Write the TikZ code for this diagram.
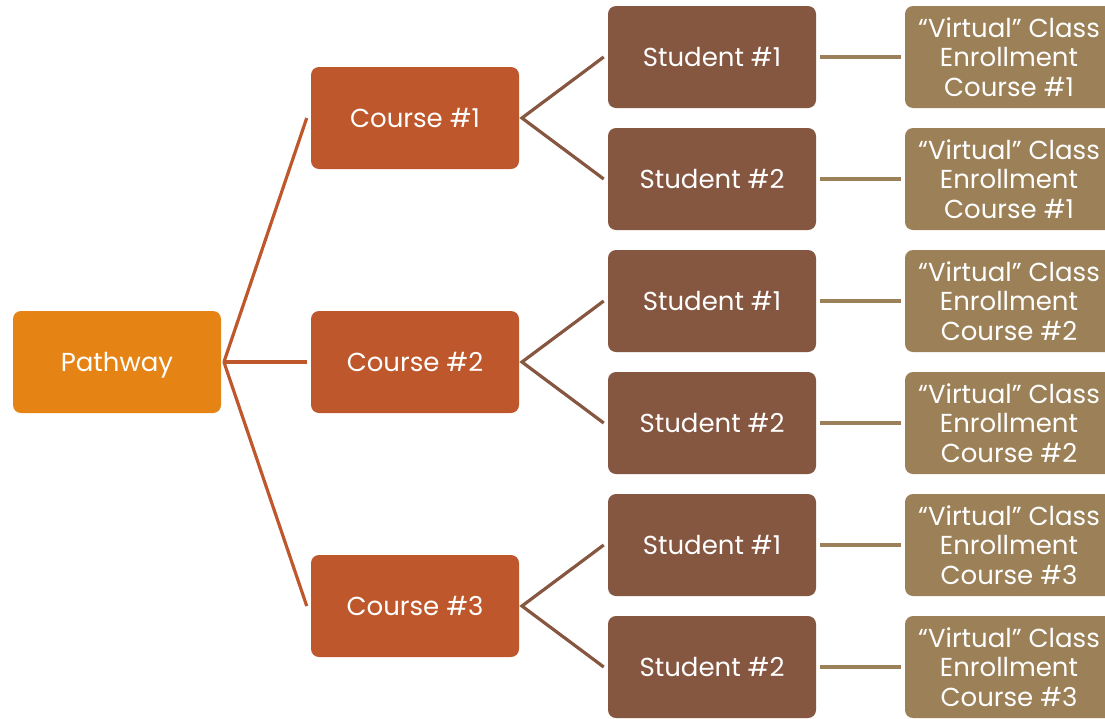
\documentclass[tikz,border=0pt]{standalone}
\usepackage{fontspec}
\setmainfont{Poppins}
\definecolor{pathc}{HTML}{E58314}
\definecolor{coursec}{HTML}{BE582C}
\definecolor{studc}{HTML}{855640}
\definecolor{virtc}{HTML}{9C8057}
\begin{document}
\begin{tikzpicture}[x=0.75pt,y=-0.75pt,
  box/.style={rounded corners=6pt,minimum width=156pt,minimum height=76.5pt,text=white,inner sep=0pt,align=center,font=\fontsize{19.5}{22.3}\selectfont},
  pbox/.style={box,fill=pathc},
  cbox/.style={box,fill=coursec},
  sbox/.style={box,fill=studc},
  vbox/.style={box,fill=virtc},
  pline/.style={draw=coursec,line width=2.4pt},
  cline/.style={draw=studc,line width=2.4pt},
  sline/.style={draw=virtc,line width=2.4pt}]
\useasboundingbox (0,0) rectangle (1105,718);
\node[pbox] (p) at (117,362) {\raisebox{0pt}[\height][0pt]{Pathway}};
\node[cbox] (c1) at (415,118) {Course \#1};
\node[cbox] (c2) at (415,362) {Course \#2};
\node[cbox] (c3) at (415,606) {Course \#3};
\foreach \i/\y/\c in {1/57/1,2/179/1,3/301/2,4/423/2,5/545/3,6/667/3}{
  \pgfmathtruncatemacro{\sn}{2-mod(\i,2)}
  \node[sbox] (s\i) at (712,\y) {Student \#\sn};
  \node[vbox] (v\i) at (1009,\y) {“Virtual” Class\\Enrollment\\Course \#\c};
}
\foreach \c in {c1,c2,c3}{
  \draw[pline] ([xshift=2pt]p.east) -- ([xshift=-3pt]\c.west);
}
\foreach \c/\a/\b in {c1/s1/s2,c2/s3/s4,c3/s5/s6}{
  \draw[cline] ([xshift=-3pt]\a.west) -- ([xshift=2pt]\c.east) -- ([xshift=-3pt]\b.west);
}
\foreach \i in {1,...,6}{
  \draw[sline] ([xshift=3pt]s\i.east) -- ([xshift=-3pt]v\i.west);
}
\end{tikzpicture}
\end{document}
